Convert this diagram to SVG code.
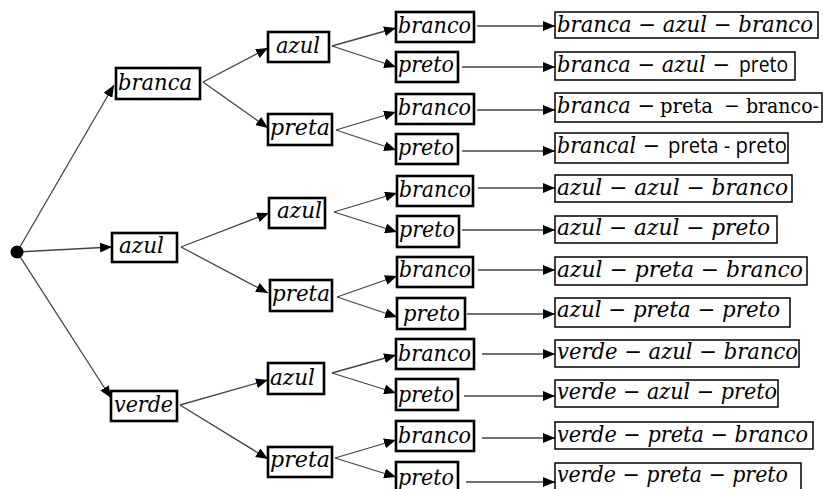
<svg xmlns="http://www.w3.org/2000/svg" width="826" height="489" viewBox="0 0 826 489">
  <style>
    .box { fill: #fff; stroke: #000; stroke-width: 2.6; }
    .out { fill: #fff; stroke: #000; stroke-width: 1.5; }
    .m { font-family: "DejaVu Serif", "Liberation Serif", serif; font-style: italic; font-size: 22px; fill: #000; }
    .u { font-family: "DejaVu Serif", "Liberation Serif", serif; font-size: 21px; fill: #000; }
    .s { font-family: "Open Sans", "Liberation Sans", sans-serif; font-size: 21px; fill: #000; }
    .edge { stroke: #444; stroke-width: 1.3; fill: none; marker-end: url(#tip); }
  </style>
  <defs>
    <marker id="tip" markerUnits="userSpaceOnUse" markerWidth="12" markerHeight="10" refX="12" refY="5" orient="auto">
      <path d="M0,0 L12,5 L0,10 z" fill="#000"/>
    </marker>
  </defs>

  <!-- connectors -->
  <g id="connectors">
    <line class="edge" x1="17" y1="252" x2="114" y2="85"/>
    <line class="edge" x1="17" y1="252" x2="112" y2="247"/>
    <line class="edge" x1="17" y1="252" x2="111" y2="398"/>

    <line class="edge" x1="203" y1="82" x2="268" y2="48"/>
    <line class="edge" x1="203" y1="82" x2="268" y2="128"/>
    <line class="edge" x1="181" y1="247" x2="269" y2="213"/>
    <line class="edge" x1="181" y1="247" x2="268" y2="293"/>
    <line class="edge" x1="180" y1="405" x2="268" y2="380"/>
    <line class="edge" x1="180" y1="405" x2="268" y2="459"/>

    <line class="edge" x1="332" y1="46" x2="396" y2="28"/>
    <line class="edge" x1="332" y1="46" x2="396" y2="67"/>
    <line class="edge" x1="336" y1="130" x2="396" y2="112"/>
    <line class="edge" x1="336" y1="130" x2="396" y2="150"/>
    <line class="edge" x1="334" y1="212" x2="397" y2="193"/>
    <line class="edge" x1="334" y1="212" x2="397" y2="232"/>
    <line class="edge" x1="337" y1="297" x2="397" y2="276"/>
    <line class="edge" x1="337" y1="297" x2="397" y2="317"/>
    <line class="edge" x1="332" y1="373" x2="396" y2="355"/>
    <line class="edge" x1="332" y1="373" x2="396" y2="393"/>
    <line class="edge" x1="335" y1="458" x2="396" y2="440"/>
    <line class="edge" x1="335" y1="458" x2="396" y2="477"/>

    <line class="edge" x1="477" y1="26" x2="555" y2="26"/>
    <line class="edge" x1="462" y1="67" x2="555" y2="67"/>
    <line class="edge" x1="477" y1="110" x2="555" y2="110"/>
    <line class="edge" x1="462" y1="151" x2="555" y2="151"/>
    <line class="edge" x1="478" y1="188" x2="555" y2="188"/>
    <line class="edge" x1="462" y1="230" x2="555" y2="230"/>
    <line class="edge" x1="478" y1="270" x2="555" y2="270"/>
    <line class="edge" x1="467" y1="314" x2="555" y2="314"/>
    <line class="edge" x1="482" y1="354" x2="555" y2="354"/>
    <line class="edge" x1="464" y1="396" x2="555" y2="396"/>
    <line class="edge" x1="482" y1="438" x2="555" y2="438"/>
    <line class="edge" x1="466" y1="482" x2="555" y2="482"/>
  </g>

  <!-- root -->
  <g id="root"><circle cx="17" cy="252" r="6.5" fill="#000"/></g>

  <!-- first draw -->
  <g id="n-branca"><rect class="box" x="116" y="68" width="84" height="31"/><text class="m" x="118" y="90" textLength="74" lengthAdjust="spacingAndGlyphs">branca</text></g>
  <g id="n-azul"><rect class="box" x="112" y="233" width="65" height="29"/><text class="m" x="119" y="253" textLength="45" lengthAdjust="spacingAndGlyphs">azul</text></g>
  <g id="n-verde"><rect class="box" x="111" y="391" width="66" height="30"/><text class="m" x="114" y="412" textLength="59" lengthAdjust="spacingAndGlyphs">verde</text></g>

  <!-- second draw -->
  <g id="n-branca-azul"><rect class="box" x="268" y="32" width="61" height="30"/><text class="m" x="276" y="53" textLength="44" lengthAdjust="spacingAndGlyphs">azul</text></g>
  <g id="n-branca-preta"><rect class="box" x="268" y="114" width="64" height="31"/><text class="m" x="270" y="135" textLength="60" lengthAdjust="spacingAndGlyphs">preta</text></g>
  <g id="n-azul-azul"><rect class="box" x="269" y="198" width="56" height="30"/><text class="m" x="277" y="218" textLength="45" lengthAdjust="spacingAndGlyphs">azul</text></g>
  <g id="n-azul-preta"><rect class="box" x="270" y="280" width="62" height="31"/><text class="m" x="272" y="301" textLength="58" lengthAdjust="spacingAndGlyphs">preta</text></g>
  <g id="n-verde-azul"><rect class="box" x="268" y="363" width="56" height="31"/><text class="m" x="270" y="385" textLength="45" lengthAdjust="spacingAndGlyphs">azul</text></g>
  <g id="n-verde-preta"><rect class="box" x="268" y="447" width="64" height="30"/><text class="m" x="270" y="467" textLength="60" lengthAdjust="spacingAndGlyphs">preta</text></g>

  <!-- third draw -->
  <g id="n-bab"><rect class="box" x="396" y="12" width="78" height="30"/><text class="m" x="398" y="33" textLength="73" lengthAdjust="spacingAndGlyphs">branco</text></g>
  <g id="n-bap"><rect class="box" x="396" y="52" width="62" height="30"/><text class="m" x="398" y="72" textLength="56" lengthAdjust="spacingAndGlyphs">preto</text></g>
  <g id="n-bpb"><rect class="box" x="396" y="94" width="78" height="30"/><text class="m" x="398" y="115" textLength="73" lengthAdjust="spacingAndGlyphs">branco</text></g>
  <g id="n-bpp"><rect class="box" x="396" y="134" width="62" height="30"/><text class="m" x="398" y="155" textLength="56" lengthAdjust="spacingAndGlyphs">preto</text></g>
  <g id="n-aab"><rect class="box" x="397" y="176" width="76" height="30"/><text class="m" x="399" y="197" textLength="72" lengthAdjust="spacingAndGlyphs">branco</text></g>
  <g id="n-aap"><rect class="box" x="397" y="216" width="62" height="31"/><text class="m" x="399" y="237" textLength="56" lengthAdjust="spacingAndGlyphs">preto</text></g>
  <g id="n-apb"><rect class="box" x="397" y="257" width="76" height="30"/><text class="m" x="399" y="277" textLength="72" lengthAdjust="spacingAndGlyphs">branco</text></g>
  <g id="n-app"><rect class="box" x="397" y="298" width="68" height="31"/><text class="m" x="403" y="321" textLength="57" lengthAdjust="spacingAndGlyphs">preto</text></g>
  <g id="n-vab"><rect class="box" x="396" y="339" width="78" height="30"/><text class="m" x="398" y="361" textLength="73" lengthAdjust="spacingAndGlyphs">branco</text></g>
  <g id="n-vap"><rect class="box" x="396" y="379" width="62" height="31"/><text class="m" x="398" y="402" textLength="56" lengthAdjust="spacingAndGlyphs">preto</text></g>
  <g id="n-vpb"><rect class="box" x="396" y="421" width="78" height="30"/><text class="m" x="398" y="443" textLength="73" lengthAdjust="spacingAndGlyphs">branco</text></g>
  <g id="n-vpp"><rect class="box" x="396" y="462" width="62" height="32"/><text class="m" x="398" y="485" textLength="56" lengthAdjust="spacingAndGlyphs">preto</text></g>

  <!-- outcomes -->
  <g id="o-bab"><rect class="out" x="555" y="12" width="263" height="26"/><text class="m" x="557" y="32" textLength="256" lengthAdjust="spacingAndGlyphs">branca − azul  − branco</text></g>
  <g id="o-bap"><rect class="out" x="555" y="52" width="240" height="28"/>
    <text class="m" x="557" y="72" textLength="173" lengthAdjust="spacingAndGlyphs">branca − azul  −</text>
    <text class="s" x="739" y="72" textLength="49" lengthAdjust="spacingAndGlyphs">preto</text></g>
  <g id="o-bpb"><rect class="out" x="555" y="93" width="267" height="29"/>
    <text class="m" x="557" y="113" textLength="98" lengthAdjust="spacingAndGlyphs">branca −</text>
    <text class="u" x="660" y="113" textLength="53" lengthAdjust="spacingAndGlyphs">preta</text>
    <text class="u" x="724" y="113" textLength="95" lengthAdjust="spacingAndGlyphs">− branco-</text></g>
  <g id="o-bpp"><rect class="out" x="555" y="133" width="233" height="30"/>
    <text class="m" x="557" y="153" textLength="103" lengthAdjust="spacingAndGlyphs">brancal −</text>
    <text class="s" x="668" y="153" textLength="119" lengthAdjust="spacingAndGlyphs">preta - preto</text></g>
  <g id="o-aab"><rect class="out" x="555" y="175" width="237" height="27"/><text class="m" x="557" y="195" textLength="231" lengthAdjust="spacingAndGlyphs">azul  − azul  − branco</text></g>
  <g id="o-aap"><rect class="out" x="555" y="216" width="222" height="27"/><text class="m" x="557" y="235" textLength="213" lengthAdjust="spacingAndGlyphs">azul  − azul  − preto</text></g>
  <g id="o-apb"><rect class="out" x="555" y="257" width="252" height="28"/><text class="m" x="557" y="277" textLength="246" lengthAdjust="spacingAndGlyphs">azul  − preta  − branco</text></g>
  <g id="o-app"><rect class="out" x="555" y="298" width="235" height="29"/><text class="m" x="557" y="317" textLength="223" lengthAdjust="spacingAndGlyphs">azul  − preta − preto</text></g>
  <g id="o-vab"><rect class="out" x="555" y="340" width="244" height="27"/><text class="m" x="557" y="359" textLength="241" lengthAdjust="spacingAndGlyphs">verde − azul  − branco</text></g>
  <g id="o-vap"><rect class="out" x="555" y="380" width="223" height="27"/><text class="m" x="557" y="399" textLength="220" lengthAdjust="spacingAndGlyphs">verde − azul − preto</text></g>
  <g id="o-vpb"><rect class="out" x="555" y="422" width="258" height="27"/><text class="m" x="557" y="442" textLength="251" lengthAdjust="spacingAndGlyphs">verde − preta − branco</text></g>
  <g id="o-vpp"><rect class="out" x="555" y="463" width="246" height="32"/><text class="m" x="557" y="482" textLength="231" lengthAdjust="spacingAndGlyphs">verde − preta − preto</text></g>
</svg>
